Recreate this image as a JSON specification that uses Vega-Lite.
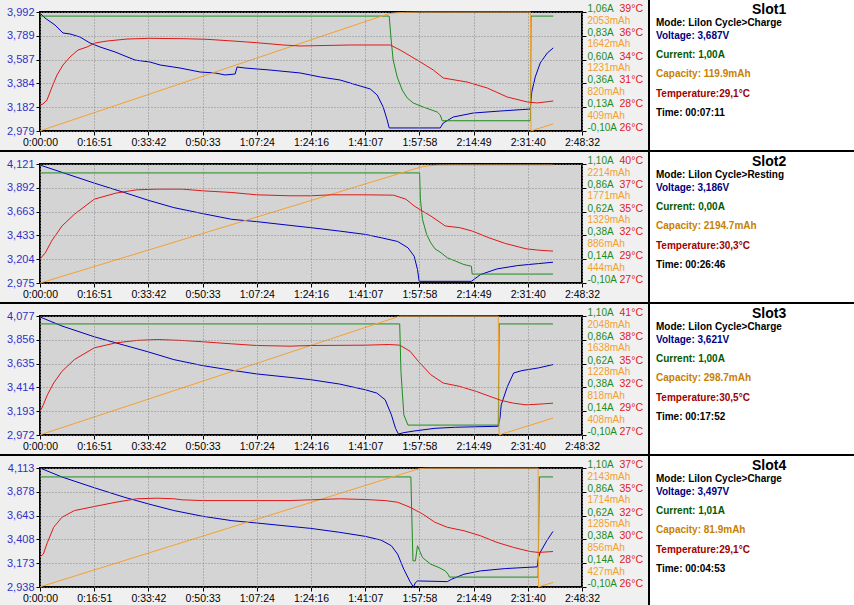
{
  "$schema": "https://vega.github.io/schema/vega-lite/v6.json",
  "background": "black",
  "padding": 0,
  "spacing": 2,
  "config": {
    "font": "Liberation Sans",
    "view": {"stroke": null},
    "axis": {"labelFont": "Liberation Sans", "labelFontSize": 11, "labelFlush": false, "labelOverlap": false, "labelBound": false},
    "line": {"strokeWidth": 1}
  },
  "datasets": {
    "lines": [
      {"s":1,"k":"V","t":0,"v":3.983},{"s":1,"k":"V","t":93,"v":3.941},{"s":1,"k":"V","t":280,"v":3.881},{"s":1,"k":"V","t":429,"v":3.813},{"s":1,"k":"V","t":560,"v":3.805},{"s":1,"k":"V","t":747,"v":3.779},{"s":1,"k":"V","t":933,"v":3.728},{"s":1,"k":"V","t":1120,"v":3.694},{"s":1,"k":"V","t":1400,"v":3.652},{"s":1,"k":"V","t":1587,"v":3.617},{"s":1,"k":"V","t":1773,"v":3.583},{"s":1,"k":"V","t":2053,"v":3.566},{"s":1,"k":"V","t":2240,"v":3.541},{"s":1,"k":"V","t":2613,"v":3.515},{"s":1,"k":"V","t":2987,"v":3.481},{"s":1,"k":"V","t":3267,"v":3.473},{"s":1,"k":"V","t":3453,"v":3.456},{"s":1,"k":"V","t":3640,"v":3.464},{"s":1,"k":"V","t":3677,"v":3.524},{"s":1,"k":"V","t":3827,"v":3.515},{"s":1,"k":"V","t":4293,"v":3.498},{"s":1,"k":"V","t":4853,"v":3.473},{"s":1,"k":"V","t":5227,"v":3.439},{"s":1,"k":"V","t":5600,"v":3.413},{"s":1,"k":"V","t":5973,"v":3.362},{"s":1,"k":"V","t":6160,"v":3.337},{"s":1,"k":"V","t":6291,"v":3.285},{"s":1,"k":"V","t":6403,"v":3.183},{"s":1,"k":"V","t":6477,"v":3.073},{"s":1,"k":"V","t":6515,"v":3.005},{"s":1,"k":"V","t":7467,"v":3.005},{"s":1,"k":"V","t":7523,"v":3.047},{"s":1,"k":"V","t":7709,"v":3.098},{"s":1,"k":"V","t":8083,"v":3.132},{"s":1,"k":"V","t":8587,"v":3.149},{"s":1,"k":"V","t":9147,"v":3.166},{"s":1,"k":"V","t":9175,"v":3.311},{"s":1,"k":"V","t":9240,"v":3.439},{"s":1,"k":"V","t":9333,"v":3.558},{"s":1,"k":"V","t":9464,"v":3.643},{"s":1,"k":"V","t":9576,"v":3.686},
      {"s":1,"k":"I","t":0,"v":1.02},{"s":1,"k":"I","t":6515,"v":1.02},{"s":1,"k":"I","t":6552,"v":0.787},{"s":1,"k":"I","t":6589,"v":0.592},{"s":1,"k":"I","t":6664,"v":0.426},{"s":1,"k":"I","t":6757,"v":0.3},{"s":1,"k":"I","t":6851,"v":0.222},{"s":1,"k":"I","t":6963,"v":0.173},{"s":1,"k":"I","t":7149,"v":0.134},{"s":1,"k":"I","t":7411,"v":0.085},{"s":1,"k":"I","t":7467,"v":0.056},{"s":1,"k":"I","t":7504,"v":0.0},{"s":1,"k":"I","t":9150,"v":0.0},{"s":1,"k":"I","t":9160,"v":1.02},{"s":1,"k":"I","t":9576,"v":1.02},
      {"s":1,"k":"C","t":0,"v":0},{"s":1,"k":"C","t":6496,"v":2020},{"s":1,"k":"C","t":6627,"v":2038},{"s":1,"k":"C","t":6800,"v":2047},{"s":1,"k":"C","t":7100,"v":2051},{"s":1,"k":"C","t":9150,"v":2052},{"s":1,"k":"C","t":9160,"v":0},{"s":1,"k":"C","t":9576,"v":120},
      {"s":1,"k":"T","t":0,"v":28.68},{"s":1,"k":"T","t":56,"v":28.8},{"s":1,"k":"T","t":131,"v":29.24},{"s":1,"k":"T","t":224,"v":30.68},{"s":1,"k":"T","t":317,"v":32.01},{"s":1,"k":"T","t":429,"v":33.12},{"s":1,"k":"T","t":560,"v":34.01},{"s":1,"k":"T","t":709,"v":34.78},{"s":1,"k":"T","t":877,"v":35.12},{"s":1,"k":"T","t":1027,"v":35.56},{"s":1,"k":"T","t":1251,"v":35.78},{"s":1,"k":"T","t":1624,"v":36.0},{"s":1,"k":"T","t":2053,"v":36.08},{"s":1,"k":"T","t":2669,"v":36.04},{"s":1,"k":"T","t":3117,"v":35.97},{"s":1,"k":"T","t":3603,"v":35.78},{"s":1,"k":"T","t":4051,"v":35.59},{"s":1,"k":"T","t":4536,"v":35.34},{"s":1,"k":"T","t":4853,"v":35.23},{"s":1,"k":"T","t":5787,"v":35.34},{"s":1,"k":"T","t":6533,"v":35.34},{"s":1,"k":"T","t":6720,"v":34.78},{"s":1,"k":"T","t":7037,"v":33.67},{"s":1,"k":"T","t":7336,"v":32.57},{"s":1,"k":"T","t":7523,"v":31.68},{"s":1,"k":"T","t":7971,"v":31.23},{"s":1,"k":"T","t":8344,"v":30.57},{"s":1,"k":"T","t":8717,"v":29.57},{"s":1,"k":"T","t":9091,"v":29.02},{"s":1,"k":"T","t":9277,"v":28.91},{"s":1,"k":"T","t":9576,"v":29.13},

      {"s":2,"k":"V","t":0,"v":4.111},{"s":2,"k":"V","t":1013,"v":3.937},{"s":2,"k":"V","t":1569,"v":3.847},{"s":2,"k":"V","t":2018,"v":3.772},{"s":2,"k":"V","t":2497,"v":3.701},{"s":2,"k":"V","t":3038,"v":3.643},{"s":2,"k":"V","t":3579,"v":3.588},{"s":2,"k":"V","t":4043,"v":3.566},{"s":2,"k":"V","t":4662,"v":3.53},{"s":2,"k":"V","t":5048,"v":3.508},{"s":2,"k":"V","t":5590,"v":3.475},{"s":2,"k":"V","t":6069,"v":3.443},{"s":2,"k":"V","t":6363,"v":3.411},{"s":2,"k":"V","t":6672,"v":3.375},{"s":2,"k":"V","t":6865,"v":3.314},{"s":2,"k":"V","t":6981,"v":3.233},{"s":2,"k":"V","t":7043,"v":3.104},{"s":2,"k":"V","t":7074,"v":2.991},{"s":2,"k":"V","t":8048,"v":2.991},{"s":2,"k":"V","t":8218,"v":3.056},{"s":2,"k":"V","t":8527,"v":3.111},{"s":2,"k":"V","t":8914,"v":3.143},{"s":2,"k":"V","t":9300,"v":3.162},{"s":2,"k":"V","t":9571,"v":3.175},
      {"s":2,"k":"I","t":0,"v":1.01},{"s":2,"k":"I","t":7082,"v":1.01},{"s":2,"k":"I","t":7097,"v":0.745},{"s":2,"k":"I","t":7136,"v":0.542},{"s":2,"k":"I","t":7213,"v":0.39},{"s":2,"k":"I","t":7290,"v":0.306},{"s":2,"k":"I","t":7368,"v":0.245},{"s":2,"k":"I","t":7484,"v":0.204},{"s":2,"k":"I","t":7600,"v":0.154},{"s":2,"k":"I","t":7754,"v":0.12},{"s":2,"k":"I","t":7909,"v":0.086},{"s":2,"k":"I","t":8048,"v":0.069},{"s":2,"k":"I","t":8063,"v":-0.01},{"s":2,"k":"I","t":9571,"v":-0.01},
      {"s":2,"k":"C","t":0,"v":0},{"s":2,"k":"C","t":6981,"v":2120},{"s":2,"k":"C","t":7136,"v":2165},{"s":2,"k":"C","t":7290,"v":2185},{"s":2,"k":"C","t":7445,"v":2192},{"s":2,"k":"C","t":7754,"v":2194.5},{"s":2,"k":"C","t":9571,"v":2194.7},
      {"s":2,"k":"T","t":0,"v":29.32},{"s":2,"k":"T","t":100,"v":30.0},{"s":2,"k":"T","t":216,"v":31.32},{"s":2,"k":"T","t":410,"v":33.02},{"s":2,"k":"T","t":642,"v":34.34},{"s":2,"k":"T","t":1013,"v":36.04},{"s":2,"k":"T","t":1415,"v":36.72},{"s":2,"k":"T","t":1801,"v":37.09},{"s":2,"k":"T","t":2188,"v":37.17},{"s":2,"k":"T","t":2652,"v":37.17},{"s":2,"k":"T","t":3038,"v":36.98},{"s":2,"k":"T","t":3579,"v":36.79},{"s":2,"k":"T","t":4043,"v":36.53},{"s":2,"k":"T","t":4662,"v":36.42},{"s":2,"k":"T","t":5048,"v":36.42},{"s":2,"k":"T","t":5435,"v":36.53},{"s":2,"k":"T","t":6069,"v":36.53},{"s":2,"k":"T","t":6595,"v":36.49},{"s":2,"k":"T","t":6826,"v":36.04},{"s":2,"k":"T","t":6981,"v":35.28},{"s":2,"k":"T","t":7097,"v":34.83},{"s":2,"k":"T","t":7290,"v":34.15},{"s":2,"k":"T","t":7561,"v":33.02},{"s":2,"k":"T","t":7831,"v":32.83},{"s":2,"k":"T","t":8063,"v":32.45},{"s":2,"k":"T","t":8373,"v":31.7},{"s":2,"k":"T","t":8682,"v":31.05},{"s":2,"k":"T","t":9068,"v":30.45},{"s":2,"k":"T","t":9300,"v":30.3},{"s":2,"k":"T","t":9571,"v":30.19},

      {"s":3,"k":"V","t":0,"v":4.068},{"s":3,"k":"V","t":410,"v":3.984},{"s":3,"k":"V","t":1013,"v":3.884},{"s":3,"k":"V","t":1569,"v":3.806},{"s":3,"k":"V","t":2018,"v":3.744},{"s":3,"k":"V","t":2497,"v":3.672},{"s":3,"k":"V","t":3038,"v":3.616},{"s":3,"k":"V","t":3579,"v":3.573},{"s":3,"k":"V","t":4043,"v":3.539},{"s":3,"k":"V","t":4662,"v":3.507},{"s":3,"k":"V","t":5048,"v":3.486},{"s":3,"k":"V","t":5590,"v":3.445},{"s":3,"k":"V","t":6069,"v":3.392},{"s":3,"k":"V","t":6285,"v":3.361},{"s":3,"k":"V","t":6440,"v":3.299},{"s":3,"k":"V","t":6556,"v":3.159},{"s":3,"k":"V","t":6633,"v":3.034},{"s":3,"k":"V","t":6687,"v":2.981},{"s":3,"k":"V","t":6788,"v":2.994},{"s":3,"k":"V","t":6981,"v":3.009},{"s":3,"k":"V","t":7368,"v":3.034},{"s":3,"k":"V","t":7754,"v":3.044},{"s":3,"k":"V","t":8550,"v":3.053},{"s":3,"k":"V","t":8581,"v":3.128},{"s":3,"k":"V","t":8605,"v":3.252},{"s":3,"k":"V","t":8721,"v":3.423},{"s":3,"k":"V","t":8837,"v":3.548},{"s":3,"k":"V","t":8991,"v":3.57},{"s":3,"k":"V","t":9300,"v":3.595},{"s":3,"k":"V","t":9571,"v":3.626},
      {"s":3,"k":"I","t":0,"v":1.02},{"s":3,"k":"I","t":6711,"v":1.02},{"s":3,"k":"I","t":6734,"v":0.542},{"s":3,"k":"I","t":6788,"v":0.103},{"s":3,"k":"I","t":6865,"v":0.0},{"s":3,"k":"I","t":8550,"v":0.0},{"s":3,"k":"I","t":8566,"v":1.02},{"s":3,"k":"I","t":9571,"v":1.02},
      {"s":3,"k":"C","t":0,"v":0},{"s":3,"k":"C","t":6711,"v":2046},{"s":3,"k":"C","t":8550,"v":2046},{"s":3,"k":"C","t":8566,"v":0},{"s":3,"k":"C","t":9571,"v":290},
      {"s":3,"k":"T","t":0,"v":29.44},{"s":3,"k":"T","t":62,"v":30.25},{"s":3,"k":"T","t":139,"v":31.47},{"s":3,"k":"T","t":255,"v":32.89},{"s":3,"k":"T","t":410,"v":34.31},{"s":3,"k":"T","t":642,"v":35.73},{"s":3,"k":"T","t":1013,"v":37.15},{"s":3,"k":"T","t":1415,"v":37.75},{"s":3,"k":"T","t":1801,"v":38.04},{"s":3,"k":"T","t":2188,"v":38.16},{"s":3,"k":"T","t":2652,"v":38.04},{"s":3,"k":"T","t":3038,"v":37.88},{"s":3,"k":"T","t":3579,"v":37.63},{"s":3,"k":"T","t":4043,"v":37.43},{"s":3,"k":"T","t":4662,"v":37.35},{"s":3,"k":"T","t":5048,"v":37.43},{"s":3,"k":"T","t":6069,"v":37.47},{"s":3,"k":"T","t":6517,"v":37.55},{"s":3,"k":"T","t":6711,"v":37.47},{"s":3,"k":"T","t":6904,"v":36.74},{"s":3,"k":"T","t":7058,"v":35.52},{"s":3,"k":"T","t":7290,"v":33.9},{"s":3,"k":"T","t":7522,"v":32.89},{"s":3,"k":"T","t":7831,"v":32.48},{"s":3,"k":"T","t":8141,"v":31.87},{"s":3,"k":"T","t":8450,"v":31.14},{"s":3,"k":"T","t":8605,"v":30.78},{"s":3,"k":"T","t":8837,"v":30.45},{"s":3,"k":"T","t":9068,"v":30.25},{"s":3,"k":"T","t":9300,"v":30.33},{"s":3,"k":"T","t":9571,"v":30.45},

      {"s":4,"k":"V","t":0,"v":4.113},{"s":4,"k":"V","t":410,"v":4.024},{"s":4,"k":"V","t":1013,"v":3.918},{"s":4,"k":"V","t":1569,"v":3.825},{"s":4,"k":"V","t":2018,"v":3.759},{"s":4,"k":"V","t":2497,"v":3.693},{"s":4,"k":"V","t":3038,"v":3.636},{"s":4,"k":"V","t":3579,"v":3.593},{"s":4,"k":"V","t":4043,"v":3.57},{"s":4,"k":"V","t":4662,"v":3.537},{"s":4,"k":"V","t":5048,"v":3.517},{"s":4,"k":"V","t":5590,"v":3.478},{"s":4,"k":"V","t":6069,"v":3.438},{"s":4,"k":"V","t":6363,"v":3.401},{"s":4,"k":"V","t":6556,"v":3.345},{"s":4,"k":"V","t":6672,"v":3.262},{"s":4,"k":"V","t":6788,"v":3.113},{"s":4,"k":"V","t":6904,"v":2.991},{"s":4,"k":"V","t":6966,"v":2.938},{"s":4,"k":"V","t":7004,"v":2.981},{"s":4,"k":"V","t":7043,"v":2.998},{"s":4,"k":"V","t":7600,"v":2.991},{"s":4,"k":"V","t":7677,"v":3.014},{"s":4,"k":"V","t":7909,"v":3.064},{"s":4,"k":"V","t":8218,"v":3.097},{"s":4,"k":"V","t":8682,"v":3.12},{"s":4,"k":"V","t":9277,"v":3.137},{"s":4,"k":"V","t":9300,"v":3.229},{"s":4,"k":"V","t":9331,"v":3.279},{"s":4,"k":"V","t":9455,"v":3.395},{"s":4,"k":"V","t":9571,"v":3.487},
      {"s":4,"k":"I","t":0,"v":1.01},{"s":4,"k":"I","t":6919,"v":1.01},{"s":4,"k":"I","t":6958,"v":0.164},{"s":4,"k":"I","t":7004,"v":0.164},{"s":4,"k":"I","t":7043,"v":0.316},{"s":4,"k":"I","t":7136,"v":0.197},{"s":4,"k":"I","t":7290,"v":0.13},{"s":4,"k":"I","t":7445,"v":0.096},{"s":4,"k":"I","t":7561,"v":0.062},{"s":4,"k":"I","t":7615,"v":0.028},{"s":4,"k":"I","t":7638,"v":0.0},{"s":4,"k":"I","t":9293,"v":0.0},{"s":4,"k":"I","t":9316,"v":1.01},{"s":4,"k":"I","t":9571,"v":1.01},
      {"s":4,"k":"C","t":0,"v":0},{"s":4,"k":"C","t":7074,"v":2131},{"s":4,"k":"C","t":7200,"v":2139},{"s":4,"k":"C","t":9293,"v":2141},{"s":4,"k":"C","t":9300,"v":0},{"s":4,"k":"C","t":9571,"v":80},
      {"s":4,"k":"T","t":0,"v":28.49},{"s":4,"k":"T","t":62,"v":28.75},{"s":4,"k":"T","t":139,"v":29.87},{"s":4,"k":"T","t":255,"v":31.32},{"s":4,"k":"T","t":410,"v":32.28},{"s":4,"k":"T","t":642,"v":32.92},{"s":4,"k":"T","t":1013,"v":33.31},{"s":4,"k":"T","t":1415,"v":33.72},{"s":4,"k":"T","t":1801,"v":34.05},{"s":4,"k":"T","t":2188,"v":34.11},{"s":4,"k":"T","t":2497,"v":34.05},{"s":4,"k":"T","t":2652,"v":33.95},{"s":4,"k":"T","t":3038,"v":33.88},{"s":4,"k":"T","t":4662,"v":33.88},{"s":4,"k":"T","t":5048,"v":33.95},{"s":4,"k":"T","t":5590,"v":34.05},{"s":4,"k":"T","t":6069,"v":33.98},{"s":4,"k":"T","t":6440,"v":33.88},{"s":4,"k":"T","t":6672,"v":33.72},{"s":4,"k":"T","t":6904,"v":33.24},{"s":4,"k":"T","t":7136,"v":32.6},{"s":4,"k":"T","t":7368,"v":31.8},{"s":4,"k":"T","t":7600,"v":31.32},{"s":4,"k":"T","t":7909,"v":30.99},{"s":4,"k":"T","t":8218,"v":30.51},{"s":4,"k":"T","t":8527,"v":29.87},{"s":4,"k":"T","t":8837,"v":29.39},{"s":4,"k":"T","t":9146,"v":29.0},{"s":4,"k":"T","t":9300,"v":28.91},{"s":4,"k":"T","t":9571,"v":29.0}
    ],
    "info": [
      {"s":1,"line":0,"key":"slot","txt":"Slot1"},{"s":1,"line":1,"key":"mode","txt":"Mode: LiIon Cycle>Charge"},{"s":1,"line":2,"key":"volt","txt":"Voltage: 3,687V"},{"s":1,"line":3,"key":"curr","txt":"Current: 1,00A"},{"s":1,"line":4,"key":"cap","txt":"Capacity: 119.9mAh"},{"s":1,"line":5,"key":"temp","txt":"Temperature:29,1°C"},{"s":1,"line":6,"key":"time","txt":"Time: 00:07:11"},
      {"s":2,"line":0,"key":"slot","txt":"Slot2"},{"s":2,"line":1,"key":"mode","txt":"Mode: LiIon Cycle>Resting"},{"s":2,"line":2,"key":"volt","txt":"Voltage: 3,186V"},{"s":2,"line":3,"key":"curr","txt":"Current: 0,00A"},{"s":2,"line":4,"key":"cap","txt":"Capacity: 2194.7mAh"},{"s":2,"line":5,"key":"temp","txt":"Temperature:30,3°C"},{"s":2,"line":6,"key":"time","txt":"Time: 00:26:46"},
      {"s":3,"line":0,"key":"slot","txt":"Slot3"},{"s":3,"line":1,"key":"mode","txt":"Mode: LiIon Cycle>Charge"},{"s":3,"line":2,"key":"volt","txt":"Voltage: 3,621V"},{"s":3,"line":3,"key":"curr","txt":"Current: 1,00A"},{"s":3,"line":4,"key":"cap","txt":"Capacity: 298.7mAh"},{"s":3,"line":5,"key":"temp","txt":"Temperature:30,5°C"},{"s":3,"line":6,"key":"time","txt":"Time: 00:17:52"},
      {"s":4,"line":0,"key":"slot","txt":"Slot4"},{"s":4,"line":1,"key":"mode","txt":"Mode: LiIon Cycle>Charge"},{"s":4,"line":2,"key":"volt","txt":"Voltage: 3,497V"},{"s":4,"line":3,"key":"curr","txt":"Current: 1,01A"},{"s":4,"line":4,"key":"cap","txt":"Capacity: 81.9mAh"},{"s":4,"line":5,"key":"temp","txt":"Temperature:29,1°C"},{"s":4,"line":6,"key":"time","txt":"Time: 00:04:53"}
    ]
  },
  "vconcat": [
    {
      "spacing": 2,
      "hconcat": [
        {
          "width": 648, "height": 150,
          "view": {"fill": "#f0f0f0", "stroke": null},
          "data": {"name": "lines"},
          "layer": [
            {
              "encoding": {
                "x": {"field": "t", "type": "quantitative", "scale": {"domain": [0, 10112], "range": [40, 582], "nice": false},
                  "axis": {"orient": "bottom", "offset": -19, "values": [0, 1011.2, 2022.4, 3033.6, 4044.8, 5056, 6067.2, 7078.4, 8089.6, 9100.8, 10112], "labelExpr": "utcFormat(datum.value * 1000, '%-H:%M:%S')", "title": null, "grid": false, "domain": false, "tickSize": 4, "tickColor": "black", "labelColor": "black", "labelFontSize": 10.5, "labelPadding": 2}},
                "y": {"field": "v", "type": "quantitative", "scale": {"domain": [2.979, 3.992], "range": [131, 12], "nice": false},
                  "axis": {"orient": "left", "offset": -40, "values": [2.979, 3.1816, 3.3842, 3.5868, 3.7894, 3.992], "labelExpr": "replace(format(datum.value, '.3f'), '.', ',')", "title": null, "grid": true, "gridColor": "#888888", "gridDash": [1, 2], "domain": false, "tickSize": 4, "tickColor": "black", "labelColor": "#3030c8", "labelPadding": 2, "zindex": 1}}
              },
              "layer": [
                {"data": {"values": [{"t": 0, "t2": 10112, "v": 2.979, "v2": 3.992}]}, "mark": {"type": "rect", "fill": "#d4d4d4", "stroke": "black", "strokeWidth": 2}, "encoding": {"x2": {"field": "t2"}, "y2": {"field": "v2"}}},
                {"transform": [{"filter": "datum.s == 1 && datum.k == 'V'"}], "mark": {"type": "line", "color": "#0000c0"}}
              ]
            },
            {
              "transform": [{"filter": "datum.s == 1 && datum.k == 'I'"}],
              "mark": {"type": "line", "color": "#1e8c1e"},
              "encoding": {
                "x": {"field": "t", "type": "quantitative", "scale": {"domain": [0, 10112], "range": [40, 582], "nice": false},
                  "axis": {"orient": "top", "values": [0, 1011.2, 2022.4, 3033.6, 4044.8, 5056, 6067.2, 7078.4, 8089.6, 9100.8, 10112], "title": null, "grid": true, "gridColor": "#888888", "gridDash": [1, 2], "labels": false, "ticks": false, "domain": false, "zindex": 1}},
                "y": {"field": "v", "type": "quantitative", "scale": {"domain": [-0.1, 1.06], "range": [131, 12], "nice": false},
                  "axis": {"orient": "right", "offset": -66, "values": [-0.1, 0.132, 0.364, 0.596, 0.828, 1.06], "labelExpr": "replace(replace(format(datum.value, '.2f'), '.', ','), '\u2212', '-') + 'A'", "title": null, "grid": false, "domain": false, "tickSize": 4, "tickColor": "black", "labelColor": "#1e8c1e", "labelFontSize": 10, "labelPadding": 1, "labelOffset": -3.5}}
              }
            },
            {
              "transform": [{"filter": "datum.s == 1 && datum.k == 'C'"}],
              "mark": {"type": "line", "color": "#f5a030"},
              "encoding": {
                "x": {"field": "t", "type": "quantitative", "scale": {"domain": [0, 10112], "range": [40, 582], "nice": false}, "axis": null},
                "y": {"field": "v", "type": "quantitative", "scale": {"domain": [-2, 2053], "range": [131, 12], "nice": false},
                  "axis": {"orient": "right", "offset": -66, "values": [409, 820, 1231, 1642, 2053], "labelExpr": "datum.value + 'mAh'", "title": null, "grid": false, "domain": false, "ticks": false, "tickSize": 0, "labelColor": "#f0a030", "labelFontSize": 10, "labelPadding": 5, "labelBaseline": "top", "labelOffset": 3}}
              }
            },
            {
              "transform": [{"filter": "datum.s == 1 && datum.k == 'T'"}],
              "mark": {"type": "line", "color": "#e01818"},
              "encoding": {
                "x": {"field": "t", "type": "quantitative", "scale": {"domain": [0, 10112], "range": [40, 582], "nice": false}, "axis": null},
                "y": {"field": "v", "type": "quantitative", "scale": {"domain": [25.8, 39], "range": [131, 12], "nice": false},
                  "axis": {"orient": "right", "offset": -29, "values": [25.8, 28.44, 31.08, 33.72, 36.36, 39], "labelExpr": "format(datum.value, '.0f') + '°C'", "title": null, "grid": false, "domain": false, "ticks": false, "tickSize": 0, "labelColor": "#e02020", "labelFontSize": 10.5, "labelPadding": 0, "labelOffset": -3.5}}
              }
            }
          ],
          "resolve": {"scale": {"x": "independent", "y": "independent"}, "axis": {"x": "independent", "y": "independent"}}
        },
        {
          "width": 204, "height": 150,
          "view": {"fill": "white", "stroke": null},
          "data": {"name": "info"},
          "transform": [{"filter": "datum.s == 1"}],
          "encoding": {
            "y": {"field": "line", "type": "quantitative", "scale": {"domain": [0, 1, 2, 3, 4, 5, 6], "range": [10, 22.5, 36, 54.5, 73.5, 94, 112.5], "nice": false, "zero": false}, "axis": null},
            "text": {"field": "txt"},
            "color": {"field": "key", "type": "nominal", "scale": {"domain": ["slot", "mode", "volt", "curr", "cap", "temp", "time"], "range": ["black", "black", "#000080", "#005a00", "#c88000", "#a00000", "black"]}, "legend": null}
          },
          "layer": [
            {"transform": [{"filter": "datum.line == 0"}], "mark": {"type": "text", "align": "left", "baseline": "middle", "fontSize": 14, "fontWeight": "bold"}, "encoding": {"x": {"datum": 0.5, "type": "quantitative", "scale": {"domain": [0, 1], "range": [6, 198]}, "axis": null}}},
            {"transform": [{"filter": "datum.line > 0"}], "mark": {"type": "text", "align": "left", "baseline": "middle", "fontSize": 10, "fontWeight": "bold"}, "encoding": {"x": {"datum": 0, "type": "quantitative", "scale": {"domain": [0, 1], "range": [6, 198]}, "axis": null}}}
          ]
        }
      ]
    },
    {
      "spacing": 2,
      "hconcat": [
        {
          "width": 648, "height": 150,
          "view": {"fill": "#f0f0f0", "stroke": null},
          "data": {"name": "lines"},
          "layer": [
            {
              "encoding": {
                "x": {"field": "t", "type": "quantitative", "scale": {"domain": [0, 10112], "range": [40, 582], "nice": false},
                  "axis": {"orient": "bottom", "offset": -19, "values": [0, 1011.2, 2022.4, 3033.6, 4044.8, 5056, 6067.2, 7078.4, 8089.6, 9100.8, 10112], "labelExpr": "utcFormat(datum.value * 1000, '%-H:%M:%S')", "title": null, "grid": false, "domain": false, "tickSize": 4, "tickColor": "black", "labelColor": "black", "labelFontSize": 10.5, "labelPadding": 2}},
                "y": {"field": "v", "type": "quantitative", "scale": {"domain": [2.975, 4.121], "range": [131, 12], "nice": false},
                  "axis": {"orient": "left", "offset": -40, "values": [2.975, 3.2042, 3.4334, 3.6626, 3.8918, 4.121], "labelExpr": "replace(format(datum.value, '.3f'), '.', ',')", "title": null, "grid": true, "gridColor": "#888888", "gridDash": [1, 2], "domain": false, "tickSize": 4, "tickColor": "black", "labelColor": "#3030c8", "labelPadding": 2, "zindex": 1}}
              },
              "layer": [
                {"data": {"values": [{"t": 0, "t2": 10112, "v": 2.975, "v2": 4.121}]}, "mark": {"type": "rect", "fill": "#d4d4d4", "stroke": "black", "strokeWidth": 2}, "encoding": {"x2": {"field": "t2"}, "y2": {"field": "v2"}}},
                {"transform": [{"filter": "datum.s == 2 && datum.k == 'V'"}], "mark": {"type": "line", "color": "#0000c0"}}
              ]
            },
            {
              "transform": [{"filter": "datum.s == 2 && datum.k == 'I'"}],
              "mark": {"type": "line", "color": "#1e8c1e"},
              "encoding": {
                "x": {"field": "t", "type": "quantitative", "scale": {"domain": [0, 10112], "range": [40, 582], "nice": false},
                  "axis": {"orient": "top", "values": [0, 1011.2, 2022.4, 3033.6, 4044.8, 5056, 6067.2, 7078.4, 8089.6, 9100.8, 10112], "title": null, "grid": true, "gridColor": "#888888", "gridDash": [1, 2], "labels": false, "ticks": false, "domain": false, "zindex": 1}},
                "y": {"field": "v", "type": "quantitative", "scale": {"domain": [-0.1, 1.1], "range": [131, 12], "nice": false},
                  "axis": {"orient": "right", "offset": -66, "values": [-0.1, 0.14, 0.38, 0.62, 0.86, 1.1], "labelExpr": "replace(replace(format(datum.value, '.2f'), '.', ','), '\u2212', '-') + 'A'", "title": null, "grid": false, "domain": false, "tickSize": 4, "tickColor": "black", "labelColor": "#1e8c1e", "labelFontSize": 10, "labelPadding": 1, "labelOffset": -3.5}}
              }
            },
            {
              "transform": [{"filter": "datum.s == 2 && datum.k == 'C'"}],
              "mark": {"type": "line", "color": "#f5a030"},
              "encoding": {
                "x": {"field": "t", "type": "quantitative", "scale": {"domain": [0, 10112], "range": [40, 582], "nice": false}, "axis": null},
                "y": {"field": "v", "type": "quantitative", "scale": {"domain": [1.5, 2214], "range": [131, 12], "nice": false},
                  "axis": {"orient": "right", "offset": -66, "values": [444, 886, 1329, 1771, 2214], "labelExpr": "datum.value + 'mAh'", "title": null, "grid": false, "domain": false, "ticks": false, "tickSize": 0, "labelColor": "#f0a030", "labelFontSize": 10, "labelPadding": 5, "labelBaseline": "top", "labelOffset": 3}}
              }
            },
            {
              "transform": [{"filter": "datum.s == 2 && datum.k == 'T'"}],
              "mark": {"type": "line", "color": "#e01818"},
              "encoding": {
                "x": {"field": "t", "type": "quantitative", "scale": {"domain": [0, 10112], "range": [40, 582], "nice": false}, "axis": null},
                "y": {"field": "v", "type": "quantitative", "scale": {"domain": [26.6, 40], "range": [131, 12], "nice": false},
                  "axis": {"orient": "right", "offset": -29, "values": [26.6, 29.28, 31.96, 34.64, 37.32, 40], "labelExpr": "format(datum.value, '.0f') + '°C'", "title": null, "grid": false, "domain": false, "ticks": false, "tickSize": 0, "labelColor": "#e02020", "labelFontSize": 10.5, "labelPadding": 0, "labelOffset": -3.5}}
              }
            }
          ],
          "resolve": {"scale": {"x": "independent", "y": "independent"}, "axis": {"x": "independent", "y": "independent"}}
        },
        {
          "width": 204, "height": 150,
          "view": {"fill": "white", "stroke": null},
          "data": {"name": "info"},
          "transform": [{"filter": "datum.s == 2"}],
          "encoding": {
            "y": {"field": "line", "type": "quantitative", "scale": {"domain": [0, 1, 2, 3, 4, 5, 6], "range": [10, 22.5, 36, 54.5, 73.5, 94, 112.5], "nice": false, "zero": false}, "axis": null},
            "text": {"field": "txt"},
            "color": {"field": "key", "type": "nominal", "scale": {"domain": ["slot", "mode", "volt", "curr", "cap", "temp", "time"], "range": ["black", "black", "#000080", "#005a00", "#c88000", "#a00000", "black"]}, "legend": null}
          },
          "layer": [
            {"transform": [{"filter": "datum.line == 0"}], "mark": {"type": "text", "align": "left", "baseline": "middle", "fontSize": 14, "fontWeight": "bold"}, "encoding": {"x": {"datum": 0.5, "type": "quantitative", "scale": {"domain": [0, 1], "range": [6, 198]}, "axis": null}}},
            {"transform": [{"filter": "datum.line > 0"}], "mark": {"type": "text", "align": "left", "baseline": "middle", "fontSize": 10, "fontWeight": "bold"}, "encoding": {"x": {"datum": 0, "type": "quantitative", "scale": {"domain": [0, 1], "range": [6, 198]}, "axis": null}}}
          ]
        }
      ]
    },
    {
      "spacing": 2,
      "hconcat": [
        {
          "width": 648, "height": 150,
          "view": {"fill": "#f0f0f0", "stroke": null},
          "data": {"name": "lines"},
          "layer": [
            {
              "encoding": {
                "x": {"field": "t", "type": "quantitative", "scale": {"domain": [0, 10112], "range": [40, 582], "nice": false},
                  "axis": {"orient": "bottom", "offset": -19, "values": [0, 1011.2, 2022.4, 3033.6, 4044.8, 5056, 6067.2, 7078.4, 8089.6, 9100.8, 10112], "labelExpr": "utcFormat(datum.value * 1000, '%-H:%M:%S')", "title": null, "grid": false, "domain": false, "tickSize": 4, "tickColor": "black", "labelColor": "black", "labelFontSize": 10.5, "labelPadding": 2}},
                "y": {"field": "v", "type": "quantitative", "scale": {"domain": [2.972, 4.077], "range": [131, 12], "nice": false},
                  "axis": {"orient": "left", "offset": -40, "values": [2.972, 3.193, 3.414, 3.635, 3.856, 4.077], "labelExpr": "replace(format(datum.value, '.3f'), '.', ',')", "title": null, "grid": true, "gridColor": "#888888", "gridDash": [1, 2], "domain": false, "tickSize": 4, "tickColor": "black", "labelColor": "#3030c8", "labelPadding": 2, "zindex": 1}}
              },
              "layer": [
                {"data": {"values": [{"t": 0, "t2": 10112, "v": 2.972, "v2": 4.077}]}, "mark": {"type": "rect", "fill": "#d4d4d4", "stroke": "black", "strokeWidth": 2}, "encoding": {"x2": {"field": "t2"}, "y2": {"field": "v2"}}},
                {"transform": [{"filter": "datum.s == 3 && datum.k == 'V'"}], "mark": {"type": "line", "color": "#0000c0"}}
              ]
            },
            {
              "transform": [{"filter": "datum.s == 3 && datum.k == 'I'"}],
              "mark": {"type": "line", "color": "#1e8c1e"},
              "encoding": {
                "x": {"field": "t", "type": "quantitative", "scale": {"domain": [0, 10112], "range": [40, 582], "nice": false},
                  "axis": {"orient": "top", "values": [0, 1011.2, 2022.4, 3033.6, 4044.8, 5056, 6067.2, 7078.4, 8089.6, 9100.8, 10112], "title": null, "grid": true, "gridColor": "#888888", "gridDash": [1, 2], "labels": false, "ticks": false, "domain": false, "zindex": 1}},
                "y": {"field": "v", "type": "quantitative", "scale": {"domain": [-0.1, 1.1], "range": [131, 12], "nice": false},
                  "axis": {"orient": "right", "offset": -66, "values": [-0.1, 0.14, 0.38, 0.62, 0.86, 1.1], "labelExpr": "replace(replace(format(datum.value, '.2f'), '.', ','), '\u2212', '-') + 'A'", "title": null, "grid": false, "domain": false, "tickSize": 4, "tickColor": "black", "labelColor": "#1e8c1e", "labelFontSize": 10, "labelPadding": 1, "labelOffset": -3.5}}
              }
            },
            {
              "transform": [{"filter": "datum.s == 3 && datum.k == 'C'"}],
              "mark": {"type": "line", "color": "#f5a030"},
              "encoding": {
                "x": {"field": "t", "type": "quantitative", "scale": {"domain": [0, 10112], "range": [40, 582], "nice": false}, "axis": null},
                "y": {"field": "v", "type": "quantitative", "scale": {"domain": [-2, 2048], "range": [131, 12], "nice": false},
                  "axis": {"orient": "right", "offset": -66, "values": [408, 818, 1228, 1638, 2048], "labelExpr": "datum.value + 'mAh'", "title": null, "grid": false, "domain": false, "ticks": false, "tickSize": 0, "labelColor": "#f0a030", "labelFontSize": 10, "labelPadding": 5, "labelBaseline": "top", "labelOffset": 3}}
              }
            },
            {
              "transform": [{"filter": "datum.s == 3 && datum.k == 'T'"}],
              "mark": {"type": "line", "color": "#e01818"},
              "encoding": {
                "x": {"field": "t", "type": "quantitative", "scale": {"domain": [0, 10112], "range": [40, 582], "nice": false}, "axis": null},
                "y": {"field": "v", "type": "quantitative", "scale": {"domain": [26.6, 41], "range": [131, 12], "nice": false},
                  "axis": {"orient": "right", "offset": -29, "values": [26.6, 29.48, 32.36, 35.24, 38.12, 41], "labelExpr": "format(datum.value, '.0f') + '°C'", "title": null, "grid": false, "domain": false, "ticks": false, "tickSize": 0, "labelColor": "#e02020", "labelFontSize": 10.5, "labelPadding": 0, "labelOffset": -3.5}}
              }
            }
          ],
          "resolve": {"scale": {"x": "independent", "y": "independent"}, "axis": {"x": "independent", "y": "independent"}}
        },
        {
          "width": 204, "height": 150,
          "view": {"fill": "white", "stroke": null},
          "data": {"name": "info"},
          "transform": [{"filter": "datum.s == 3"}],
          "encoding": {
            "y": {"field": "line", "type": "quantitative", "scale": {"domain": [0, 1, 2, 3, 4, 5, 6], "range": [10, 22.5, 36, 54.5, 73.5, 94, 112.5], "nice": false, "zero": false}, "axis": null},
            "text": {"field": "txt"},
            "color": {"field": "key", "type": "nominal", "scale": {"domain": ["slot", "mode", "volt", "curr", "cap", "temp", "time"], "range": ["black", "black", "#000080", "#005a00", "#c88000", "#a00000", "black"]}, "legend": null}
          },
          "layer": [
            {"transform": [{"filter": "datum.line == 0"}], "mark": {"type": "text", "align": "left", "baseline": "middle", "fontSize": 14, "fontWeight": "bold"}, "encoding": {"x": {"datum": 0.5, "type": "quantitative", "scale": {"domain": [0, 1], "range": [6, 198]}, "axis": null}}},
            {"transform": [{"filter": "datum.line > 0"}], "mark": {"type": "text", "align": "left", "baseline": "middle", "fontSize": 10, "fontWeight": "bold"}, "encoding": {"x": {"datum": 0, "type": "quantitative", "scale": {"domain": [0, 1], "range": [6, 198]}, "axis": null}}}
          ]
        }
      ]
    },
    {
      "spacing": 2,
      "hconcat": [
        {
          "width": 648, "height": 149,
          "view": {"fill": "#f0f0f0", "stroke": null},
          "data": {"name": "lines"},
          "layer": [
            {
              "encoding": {
                "x": {"field": "t", "type": "quantitative", "scale": {"domain": [0, 10112], "range": [40, 582], "nice": false},
                  "axis": {"orient": "bottom", "offset": -18, "values": [0, 1011.2, 2022.4, 3033.6, 4044.8, 5056, 6067.2, 7078.4, 8089.6, 9100.8, 10112], "labelExpr": "utcFormat(datum.value * 1000, '%-H:%M:%S')", "title": null, "grid": false, "domain": false, "tickSize": 4, "tickColor": "black", "labelColor": "black", "labelFontSize": 10.5, "labelPadding": 2}},
                "y": {"field": "v", "type": "quantitative", "scale": {"domain": [2.938, 4.113], "range": [131, 12], "nice": false},
                  "axis": {"orient": "left", "offset": -40, "values": [2.938, 3.173, 3.408, 3.643, 3.878, 4.113], "labelExpr": "replace(format(datum.value, '.3f'), '.', ',')", "title": null, "grid": true, "gridColor": "#888888", "gridDash": [1, 2], "domain": false, "tickSize": 4, "tickColor": "black", "labelColor": "#3030c8", "labelPadding": 2, "zindex": 1}}
              },
              "layer": [
                {"data": {"values": [{"t": 0, "t2": 10112, "v": 2.938, "v2": 4.113}]}, "mark": {"type": "rect", "fill": "#d4d4d4", "stroke": "black", "strokeWidth": 2}, "encoding": {"x2": {"field": "t2"}, "y2": {"field": "v2"}}},
                {"transform": [{"filter": "datum.s == 4 && datum.k == 'V'"}], "mark": {"type": "line", "color": "#0000c0"}}
              ]
            },
            {
              "transform": [{"filter": "datum.s == 4 && datum.k == 'I'"}],
              "mark": {"type": "line", "color": "#1e8c1e"},
              "encoding": {
                "x": {"field": "t", "type": "quantitative", "scale": {"domain": [0, 10112], "range": [40, 582], "nice": false},
                  "axis": {"orient": "top", "values": [0, 1011.2, 2022.4, 3033.6, 4044.8, 5056, 6067.2, 7078.4, 8089.6, 9100.8, 10112], "title": null, "grid": true, "gridColor": "#888888", "gridDash": [1, 2], "labels": false, "ticks": false, "domain": false, "zindex": 1}},
                "y": {"field": "v", "type": "quantitative", "scale": {"domain": [-0.1, 1.1], "range": [131, 12], "nice": false},
                  "axis": {"orient": "right", "offset": -66, "values": [-0.1, 0.14, 0.38, 0.62, 0.86, 1.1], "labelExpr": "replace(replace(format(datum.value, '.2f'), '.', ','), '\u2212', '-') + 'A'", "title": null, "grid": false, "domain": false, "tickSize": 4, "tickColor": "black", "labelColor": "#1e8c1e", "labelFontSize": 10, "labelPadding": 1, "labelOffset": -3.5}}
              }
            },
            {
              "transform": [{"filter": "datum.s == 4 && datum.k == 'C'"}],
              "mark": {"type": "line", "color": "#f5a030"},
              "encoding": {
                "x": {"field": "t", "type": "quantitative", "scale": {"domain": [0, 10112], "range": [40, 582], "nice": false}, "axis": null},
                "y": {"field": "v", "type": "quantitative", "scale": {"domain": [-2, 2143], "range": [131, 12], "nice": false},
                  "axis": {"orient": "right", "offset": -66, "values": [427, 856, 1285, 1714, 2143], "labelExpr": "datum.value + 'mAh'", "title": null, "grid": false, "domain": false, "ticks": false, "tickSize": 0, "labelColor": "#f0a030", "labelFontSize": 10, "labelPadding": 5, "labelBaseline": "top", "labelOffset": 3}}
              }
            },
            {
              "transform": [{"filter": "datum.s == 4 && datum.k == 'T'"}],
              "mark": {"type": "line", "color": "#e01818"},
              "encoding": {
                "x": {"field": "t", "type": "quantitative", "scale": {"domain": [0, 10112], "range": [40, 582], "nice": false}, "axis": null},
                "y": {"field": "v", "type": "quantitative", "scale": {"domain": [25.6, 37], "range": [131, 12], "nice": false},
                  "axis": {"orient": "right", "offset": -29, "values": [25.6, 27.88, 30.16, 32.44, 34.72, 37], "labelExpr": "format(datum.value, '.0f') + '°C'", "title": null, "grid": false, "domain": false, "ticks": false, "tickSize": 0, "labelColor": "#e02020", "labelFontSize": 10.5, "labelPadding": 0, "labelOffset": -3.5}}
              }
            }
          ],
          "resolve": {"scale": {"x": "independent", "y": "independent"}, "axis": {"x": "independent", "y": "independent"}}
        },
        {
          "width": 204, "height": 149,
          "view": {"fill": "white", "stroke": null},
          "data": {"name": "info"},
          "transform": [{"filter": "datum.s == 4"}],
          "encoding": {
            "y": {"field": "line", "type": "quantitative", "scale": {"domain": [0, 1, 2, 3, 4, 5, 6], "range": [10, 22.5, 36, 54.5, 73.5, 94, 112.5], "nice": false, "zero": false}, "axis": null},
            "text": {"field": "txt"},
            "color": {"field": "key", "type": "nominal", "scale": {"domain": ["slot", "mode", "volt", "curr", "cap", "temp", "time"], "range": ["black", "black", "#000080", "#005a00", "#c88000", "#a00000", "black"]}, "legend": null}
          },
          "layer": [
            {"transform": [{"filter": "datum.line == 0"}], "mark": {"type": "text", "align": "left", "baseline": "middle", "fontSize": 14, "fontWeight": "bold"}, "encoding": {"x": {"datum": 0.5, "type": "quantitative", "scale": {"domain": [0, 1], "range": [6, 198]}, "axis": null}}},
            {"transform": [{"filter": "datum.line > 0"}], "mark": {"type": "text", "align": "left", "baseline": "middle", "fontSize": 10, "fontWeight": "bold"}, "encoding": {"x": {"datum": 0, "type": "quantitative", "scale": {"domain": [0, 1], "range": [6, 198]}, "axis": null}}}
          ]
        }
      ]
    }
  ]
}
